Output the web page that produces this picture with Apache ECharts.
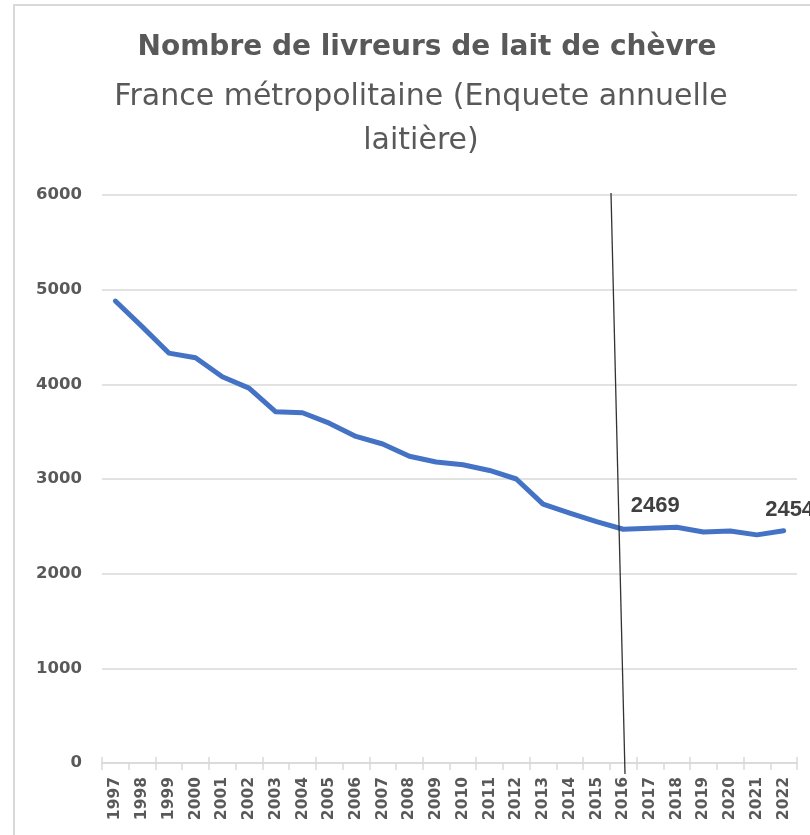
<!DOCTYPE html>
<html>
<head>
<meta charset="utf-8">
<script src="https://cdn.jsdelivr.net/npm/echarts@6/dist/echarts.min.js"></script>
<style>
html,body{margin:0;padding:0;background:#fff;}
#chart{width:810px;height:835px;}
</style>
</head>
<body>
<div id="chart"></div>
<script>
var years = ['1997','1998','1999','2000','2001','2002','2003','2004','2005','2006','2007','2008','2009','2010','2011','2012','2013','2014','2015','2016','2017','2018','2019','2020','2021','2022'];
var livreurs = [4880,4610,4330,4280,4080,3960,3710,3700,3590,3450,3370,3240,3180,3150,3090,3000,2735,2640,2550,2469,2480,2490,2440,2450,2410,2454];
var labeledYears = ['2016','2022'];
var yTicks = [0,1000,2000,3000,4000,5000,6000];
var titleText = 'Nombre de livreurs de lait de chèvre';
var subtitleLines = ['France métropolitaine (Enquete annuelle', 'laitière)'];

var labelOffsets = {'2016':[32,-6], '2022':[6,-4]};
var seriesData = livreurs.map(function(v,i){
  var y = years[i];
  if (labeledYears.indexOf(y) >= 0) {
    return {value:v, label:{show:true, position:'top', offset:labelOffsets[y], formatter:'{c}',
      fontFamily:'Liberation Sans', fontWeight:'bold', fontSize:22, color:'#404040'}};
  }
  return v;
});

var chart = echarts.init(document.getElementById('chart'), null, {renderer:'canvas'});
var axisFont = 'DejaVu Sans';
chart.setOption({
  animation:false,
  backgroundColor:'#fff',
  grid:{left:102, right:13, top:195, bottom:72, containLabel:false},
  graphic:[
    {type:'rect', shape:{x:14, y:5, width:900, height:900}, style:{fill:'none', stroke:'#d9d9d9', lineWidth:2}, z:0},
    {type:'text', x:427, y:48, style:{text:titleText, textAlign:'center', textVerticalAlign:'middle', font:'bold 28px "DejaVu Sans"', fill:'#595959'}},
    {type:'text', x:421, y:97, style:{text:subtitleLines[0], textAlign:'center', textVerticalAlign:'middle', font:'30px "DejaVu Sans"', fill:'#595959'}},
    {type:'text', x:421, y:141, style:{text:subtitleLines[1], textAlign:'center', textVerticalAlign:'middle', font:'30px "DejaVu Sans"', fill:'#595959'}},
    {type:'line', shape:{x1:611, y1:193, x2:625, y2:774}, style:{stroke:'#333', lineWidth:1.3}, z:100}
  ],
  xAxis:[{
    type:'category', data:years, boundaryGap:true,
    axisLine:{show:true, lineStyle:{color:'#d9d9d9', width:1.5}},
    axisTick:{show:true, length:7, lineStyle:{color:'#d9d9d9', width:1.5}},
    axisLabel:{rotate:90, interval:0, fontFamily:axisFont, fontWeight:'bold', fontSize:15.5, color:'#595959', margin:14}
  },{
    type:'category', data:years, boundaryGap:true, position:'bottom', offset:0,
    axisLine:{show:false},
    axisTick:{show:true, inside:true, length:6, lineStyle:{color:'#d9d9d9', width:1.5}},
    axisLabel:{show:false}
  }],
  yAxis:{
    type:'value', min:yTicks[0], max:yTicks[yTicks.length-1], interval:1000,
    axisLine:{show:false}, axisTick:{show:false},
    splitLine:{lineStyle:{color:'#d9d9d9', width:1.5}},
    axisLabel:{fontFamily:axisFont, fontWeight:'bold', fontSize:16.5, color:'#595959', margin:20,
      formatter:function(v){return String(v);}}
  },
  series:[{
    type:'line', data:seriesData, symbol:'circle', symbolSize:2, showSymbol:true,
    itemStyle:{color:'rgba(0,0,0,0)', borderWidth:0},
    lineStyle:{color:'#4472C4', width:5, cap:'round', join:'round'},
    label:{show:false}
  }]
});
</script>
</body>
</html>
